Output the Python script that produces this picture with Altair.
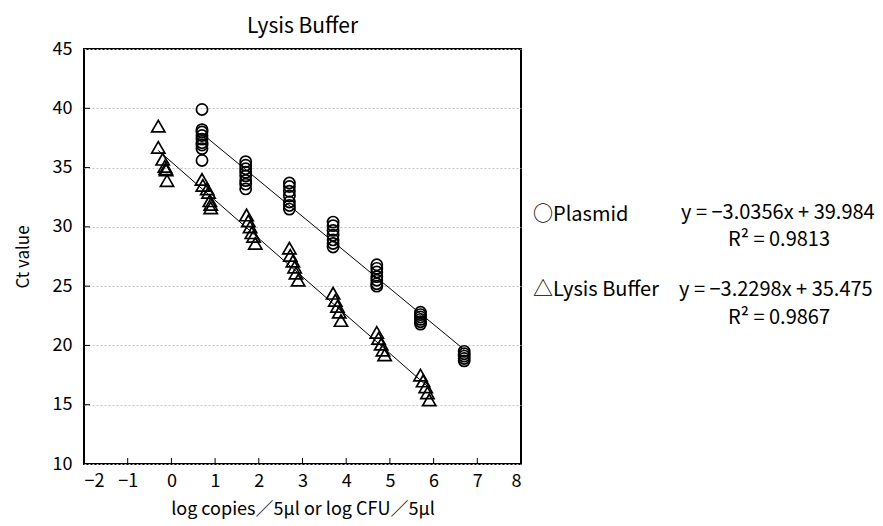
import altair as alt
import pandas as pd

FONT = "Noto Sans CJK JP"

# ---- data ----
plasmid_groups = [0.7, 1.7, 2.7, 3.7, 4.7, 5.7, 6.7]
plasmid_ct = [
    [39.9, 38.2, 38.0, 37.7, 37.4, 37.1, 36.9, 36.6, 35.6],
    [35.5, 35.2, 34.9, 34.6, 34.3, 33.9, 33.6, 33.2],
    [33.7, 33.4, 33.0, 32.6, 32.1, 31.8, 31.5],
    [30.4, 30.1, 29.7, 29.3, 28.9, 28.6, 28.3],
    [26.8, 26.5, 26.2, 25.8, 25.5, 25.2, 25.0],
    [22.8, 22.6, 22.4, 22.2, 22.0, 21.8],
    [19.5, 19.3, 19.1, 18.9, 18.7],
]

lysis_x = [-0.30, -0.30, -0.20, -0.15, -0.13, -0.12, -0.10,
           0.70, 0.72, 0.82, 0.85, 0.88, 0.90, 0.90,
           1.72, 1.76, 1.80, 1.84, 1.88, 1.92,
           2.70, 2.72, 2.78, 2.82, 2.85, 2.90,
           3.70, 3.75, 3.80, 3.84, 3.88,
           4.70, 4.74, 4.80, 4.84, 4.88,
           5.70, 5.76, 5.82, 5.86, 5.90]
lysis_ct = [38.5, 36.7, 35.7, 35.1, 34.9, 34.8, 33.9,
            34.0, 33.5, 33.2, 32.9, 32.2, 31.9, 31.6,
            31.0, 30.5, 30.0, 29.5, 29.2, 28.6,
            28.2, 27.6, 27.1, 26.6, 26.1, 25.5,
            24.4, 23.8, 23.3, 22.8, 22.1,
            21.1, 20.6, 20.1, 19.6, 19.2,
            17.5, 17.0, 16.5, 16.0, 15.4]

plasmid_fit = (-3.0356, 39.984)
lysis_fit = (-3.2298, 35.475)

x_ticks = [-2, -1, 0, 1, 2, 3, 4, 5, 6, 7, 8]
y_ticks = [10, 15, 20, 25, 30, 35, 40, 45]

# ---- tables ----
px, py = [], []
for g, cts in zip(plasmid_groups, plasmid_ct):
    for c in cts:
        px.append(g)
        py.append(c)
plasmid_df = pd.DataFrame({"x": px, "ct": py})
lysis_df = pd.DataFrame({"x": lysis_x, "ct": lysis_ct})

def fit_line(xs, fit):
    lo, hi = min(xs), max(xs)
    return pd.DataFrame({"x": [lo, hi], "ct": [fit[0] * lo + fit[1], fit[0] * hi + fit[1]]})

plasmid_line = fit_line(px, plasmid_fit)
lysis_line = fit_line(lysis_x, lysis_fit)

W, H = 437, 415

xscale = alt.Scale(domain=[-2, 8], nice=False, zero=False)
yscale = alt.Scale(domain=[10, 45], nice=False, zero=False)

xenc = alt.X("x:Q", scale=xscale,
             axis=alt.Axis(values=x_ticks, title="log copies／5μl or log CFU／5μl",
                           grid=False, ticks=False, domain=False, labelPadding=8,
                           titlePadding=10, labelFontSize=18, titleFontSize=18))
yenc = alt.Y("ct:Q", scale=yscale,
             axis=alt.Axis(values=y_ticks, title="Ct value", grid=True,
                           gridDash=[2, 2], gridColor="#c4c4c4", gridWidth=1,
                           ticks=False, domain=False, labelPadding=12,
                           titlePadding=20, labelFontSize=18, titleFontSize=17))

circles = alt.Chart(plasmid_df).mark_point(shape="circle", filled=False, color="black",
                                           strokeWidth=1.7, opacity=1, size=125).encode(x=xenc, y=yenc)
tri = alt.Chart(lysis_df).mark_point(shape="triangle-up", filled=False, color="black",
                                     strokeWidth=1.7, opacity=1, size=175).encode(
    x=alt.X("x:Q", scale=xscale), y=alt.Y("ct:Q", scale=yscale))

l1 = alt.Chart(plasmid_line).mark_line(color="black", strokeWidth=1).encode(
    x=alt.X("x:Q", scale=xscale), y=alt.Y("ct:Q", scale=yscale))
l2 = alt.Chart(lysis_line).mark_line(color="black", strokeWidth=1).encode(
    x=alt.X("x:Q", scale=xscale), y=alt.Y("ct:Q", scale=yscale))

# inward tick marks
xt = alt.Chart(pd.DataFrame({"x": x_ticks[1:-1]})).mark_rule(color="black", strokeWidth=1).encode(
    x=alt.X("x:Q", scale=xscale), y=alt.value(H - 6), y2=alt.value(H))
yt = alt.Chart(pd.DataFrame({"ct": y_ticks[1:-1]})).mark_rule(color="black", strokeWidth=1).encode(
    y=alt.Y("ct:Q", scale=yscale), x=alt.value(0), x2=alt.value(6))

def label(txt, x, y, align="left"):
    return alt.Chart(pd.DataFrame({"t": [txt]})).mark_text(
        font=FONT, fontSize=20, align=align, baseline="middle", color="black"
    ).encode(text="t:N", x=alt.value(x), y=alt.value(y))

texts = [
    label("○Plasmid", 449, 166),
    label("y = −3.0356x + 39.984", 597, 164),
    label("R² = 0.9813", 644, 191),
    label("△Lysis Buffer", 449, 241),
    label("y = −3.2298x + 35.475", 595, 241),
    label("R² = 0.9867", 644, 269),
]

chart = alt.layer(circles, tri, l1, l2, xt, yt, *texts).properties(
    width=W, height=H,
    title=alt.TitleParams("Lysis Buffer", font=FONT, fontSize=21, fontWeight="normal",
                          anchor="middle", offset=3, color="black"),
    autosize=alt.AutoSizeParams(type="none"),
    padding={"left": 76, "top": 41, "right": 354, "bottom": 58},
).configure_view(stroke="black", strokeWidth=2).configure_axis(
    labelFont=FONT, titleFont=FONT,
    labelColor="black", titleColor="black", titleFontWeight="normal"
)

chart.save("out.html", embed_options={"renderer": "svg", "actions": False})
